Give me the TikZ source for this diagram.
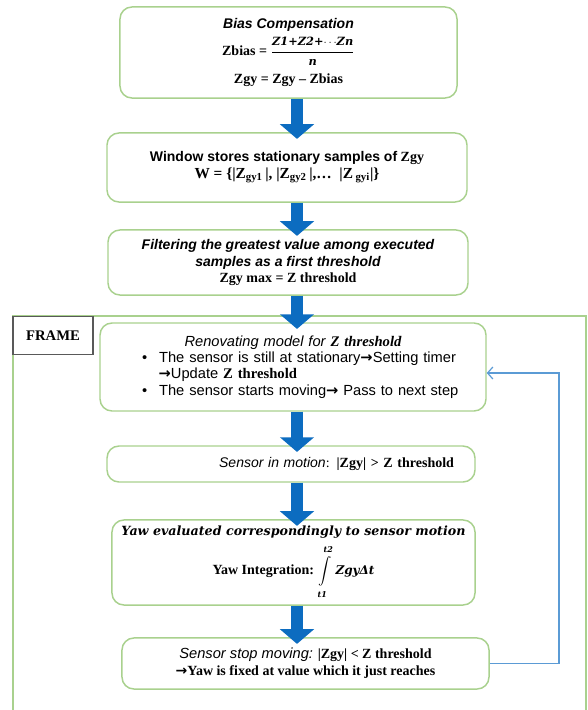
\documentclass[tikz,border=0pt]{standalone}
\usepackage{fontspec}
\setmainfont{Liberation Serif}
\setsansfont{Liberation Sans}
\newfontfamily\cambriafont{DejaVu Serif}
\newfontfamily\arrowfont{DejaVu Sans}
\usetikzlibrary{arrows.meta}

\definecolor{boxgreen}{RGB}{169,209,142}
\definecolor{flowblue}{RGB}{12,108,192}
\definecolor{loopblue}{RGB}{91,155,213}

\newcommand{\headsf}{\sffamily\bfseries\itshape}
\newcommand{\plainsf}{\sffamily\itshape}
\newcommand{\cmbi}{\cambriafont\bfseries\itshape}
\newcommand{\thinto}{{\arrowfont\bfseries →}}

\tikzset{
  stepbox/.style={draw=boxgreen, line width=1.1pt, rounded corners=9pt, fill=white,
    align=center, inner sep=0pt, font=\fontsize{10.5}{12.5}\selectfont},
  flowarrow/.style={flowblue, line width=9pt, -{Triangle[width=25pt,length=11pt]}, shorten >=-5pt},
  loopline/.style={loopblue, line width=0.9pt, -{Straight Barb[length=4pt,width=9pt]}}
}

\begin{document}
\begin{tikzpicture}[x=0.75pt,y=-0.75pt]
  \useasboundingbox (0,0) rectangle (587,710);

  % frame round the repeated part
  \draw[boxgreen, line width=1.1pt] (13,714) -- (13,316) -- (586,316) -- (586,714);
  \node[draw=black!65, line width=0.8pt, fill=white, minimum width=60pt, minimum height=29pt,
    font=\bfseries\fontsize{11}{12}\selectfont] (frame) at (53,335.5) {FRAME};

  \node[stepbox, minimum width=252.8pt, minimum height=68.3pt] (bias) at (288.5,52.5)
    {{\headsf Bias Compensation}\\[3pt]
     \textbf{Zbias =} $\displaystyle\frac{\hbox{\cmbi\fontsize{8.5}{10}\selectfont Z1+Z2+$\cdots$Zn}}
       {\hbox{\cmbi\fontsize{8.5}{10}\selectfont n}}$\\[5pt]
     \textbf{Zgy = Zgy – Zbias}};

  \node[stepbox, minimum width=270pt, minimum height=51.8pt] (window) at (287,167.5)
    {{\sffamily\bfseries Window stores stationary samples of} \textbf{Zgy}\\
     {\fontsize{11.5}{13}\selectfont\bfseries W = \{|Z\textsubscript{gy1}\,|, |Z\textsubscript{gy2}\,|,…\ \ |Z\,\textsubscript{gyi}|\}}};

  \node[stepbox, minimum width=270pt, minimum height=48.8pt] (filter) at (288,262.5)
    {{\headsf Filtering the greatest value among executed}\\
     {\headsf samples as a first threshold}\\
     \textbf{Zgy max = Z threshold}};

  \node[stepbox, minimum width=289.5pt, minimum height=66pt, text width=289.5pt, align=left,
    font=\sffamily\fontsize{11}{12.3}\selectfont] (renew) at (293,367)
    {\makebox[\hsize]{\itshape Renovating model for {\rmfamily\bfseries Z threshold}}\\
     \hspace*{31.5pt}•\hspace{9pt}The sensor is still at stationary\thinto Setting timer\\
     \hspace*{44pt}\thinto Update \textbf{\rmfamily Z threshold}\\
     \hspace*{31.5pt}•\hspace{9pt}The sensor starts moving\thinto{} Pass to next step};

  \node[stepbox, minimum width=276pt, minimum height=27pt, text width=244.5pt, inner xsep=15.75pt,
    align=right] (motion) at (291,464)
    {{\plainsf Sensor in motion}: \textbf{|Zgy| > Z threshold}};

  \node[stepbox, minimum width=272.3pt, minimum height=63.8pt] (yaw) at (293.5,562.5)
    {{\cmbi\fontsize{9.5}{11}\selectfont Yaw evaluated correspondingly to sensor motion}\\[4pt]
     \textbf{Yaw Integration:} $\displaystyle\int\limits_{\hbox{\cmbi\fontsize{6}{7}\selectfont\rule{0pt}{7pt}t1}}^{\hbox{\cmbi\fontsize{6}{7}\selectfont\rule[-2pt]{0pt}{2pt}t2}}$
     {\cmbi\fontsize{9}{11}\selectfont ZgyΔt}};

  \node[stepbox, minimum width=275.3pt, minimum height=38.3pt] (stop) at (305.5,663.5)
    {{\plainsf\fontsize{11}{12.5}\selectfont Sensor stop moving:} \textbf{|Zgy| < Z threshold}\\
     \textbf{\thinto Yaw is fixed at value which it just reaches}};

  % arrows
  \coordinate (ax) at (297,0);
  \coordinate (rx) at (559,0);
  \draw[flowarrow] (bias.south -| ax) -- (window.north -| ax);
  \draw[flowarrow] (window.south -| ax) -- (filter.north -| ax);
  \draw[flowarrow] (filter.south -| ax) -- (renew.north -| ax);
  \draw[flowarrow] (renew.south -| ax) -- (motion.north -| ax);
  \draw[flowarrow] (motion.south -| ax) -- (yaw.north -| ax);
  \draw[flowarrow] (yaw.south -| ax) -- (stop.north -| ax);

  \coordinate (back) at ([yshift=-4.5pt]renew.east);
  \draw[loopline] (stop.east) -- (stop.east -| rx) -- (back -| rx) -- (back);
\end{tikzpicture}
\end{document}
